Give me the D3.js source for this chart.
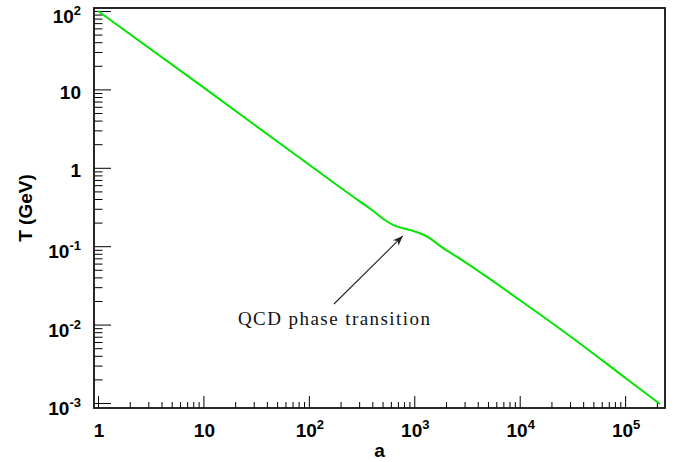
<!DOCTYPE html>
<html>
<head>
<meta charset="utf-8">
<script src="https://cdn.jsdelivr.net/npm/d3@7"></script>
<style>
  html, body { margin: 0; padding: 0; background: #fff; }
  svg { display: block; }
  .lab { font-family: "Liberation Sans", Arial, Helvetica, sans-serif; font-weight: bold; fill: #000; }
</style>
</head>
<body>
<svg id="chart" width="676" height="462"></svg>
<script>
// Scale factor a versus temperature T (GeV) through the QCD era
const scaleFactor = [1, 10, 100, 306, 409, 509, 634, 789, 980, 1178, 1413, 1757, 2186, 2720, 10000, 32400, 100000, 214000];
const temperature = [100, 10.6, 1.1, 0.370, 0.281, 0.222, 0.186, 0.169, 0.156, 0.143, 0.126, 0.101, 0.083, 0.069, 0.0206, 0.0066, 0.0021, 0.00097];

// Axis ticks (labelled decades)
const xMajor = [1, 10, 100, 1000, 10000, 100000];
const xLabels = [["1", ""], ["10", ""], ["10", "2"], ["10", "3"], ["10", "4"], ["10", "5"]];
const yMajor = [100, 10, 1, 0.1, 0.01, 0.001];
const yLabels = [["10", "2"], ["10", ""], ["1", ""], ["10", "-1"], ["10", "-2"], ["10", "-3"]];

// Annotation: label and arrow in data coordinates
const noteText = "QCD phase transition";
const noteArrowFrom = [173, 0.0183];
const noteArrowTo = [778, 0.135];
const noteTextAt = [173, 0.00975];

const frame = { left: 94, right: 665, top: 8, bottom: 408 };

const svg = d3.select("#chart");

const x = d3.scaleLog().domain([0.916, 2.39e5]).range([frame.left, frame.right]);
const y = d3.scaleLog().domain([8.63e-4, 109.2]).range([frame.bottom, frame.top]);

// minor ticks: 2..9 in each decade inside the domain
function minors(scale, lo, hi) {
  const out = [];
  for (let e = lo; e <= hi; e++) {
    for (let m = 2; m <= 9; m++) {
      const v = m * Math.pow(10, e);
      const [d0, d1] = scale.domain();
      if (v > d0 && v < d1) out.push(v);
    }
  }
  return out;
}
const xMinor = minors(x, 0, 5);
const yMinor = minors(y, -3, 1);

// y axis ticks (pointing into the plot)
svg.append("g")
  .attr("transform", `translate(${frame.left},0)`)
  .call(d3.axisLeft(y).tickValues(yMajor).tickSize(-17).tickFormat(""))
  .call(g => g.select(".domain").remove())
  .call(g => g.selectAll("line").attr("stroke", "#000").attr("stroke-width", 1));
svg.append("g")
  .attr("transform", `translate(${frame.left},0)`)
  .call(d3.axisLeft(y).tickValues(yMinor).tickSize(-8.5).tickFormat(""))
  .call(g => g.select(".domain").remove())
  .call(g => g.selectAll("line").attr("stroke", "#000").attr("stroke-width", 1));

// x axis ticks
svg.append("g")
  .attr("transform", `translate(0,${frame.bottom})`)
  .call(d3.axisBottom(x).tickValues(xMajor).tickSize(-12).tickFormat(""))
  .call(g => g.select(".domain").remove())
  .call(g => g.selectAll("line").attr("stroke", "#000").attr("stroke-width", 1));
svg.append("g")
  .attr("transform", `translate(0,${frame.bottom})`)
  .call(d3.axisBottom(x).tickValues(xMinor).tickSize(-6).tickFormat(""))
  .call(g => g.select(".domain").remove())
  .call(g => g.selectAll("line").attr("stroke", "#000").attr("stroke-width", 1));

// tick labels with superscript exponents
function powerLabel(sel, base, exp) {
  sel.append("tspan").text(base);
  if (exp) sel.append("tspan").attr("dy", -8).attr("font-size", 13).text(exp);
}
yMajor.forEach((v, i) => {
  const [b, e] = yLabels[i];
  const t = svg.append("text").attr("class", "lab")
    .attr("x", 81).attr("y", y(v) + (e ? 12 : 9.5))
    .attr("text-anchor", "end").attr("font-size", 19);
  powerLabel(t, b, e);
});
xMajor.forEach((v, i) => {
  const [b, e] = xLabels[i];
  const t = svg.append("text").attr("class", "lab")
    .attr("x", x(v) + 1).attr("y", 436.5)
    .attr("text-anchor", "middle").attr("font-size", 19);
  powerLabel(t, b, e);
});

// axis titles
svg.append("text").attr("class", "lab")
  .attr("x", (frame.left + frame.right) / 2).attr("y", 457)
  .attr("text-anchor", "middle").attr("font-size", 19).text("a");
svg.append("text").attr("class", "lab")
  .attr("transform", `translate(32,${(frame.top + frame.bottom) / 2}) rotate(-90)`)
  .attr("text-anchor", "middle").attr("font-size", 19).text("T (GeV)");

// temperature curve
const pts = scaleFactor.map((a, i) => [a, temperature[i]]);
svg.append("path")
  .datum(pts)
  .attr("fill", "none")
  .attr("stroke", "#00e600")
  .attr("stroke-width", 2)
  .attr("d", d3.line().x(d => x(d[0])).y(d => y(d[1])).curve(d3.curveMonotoneX));

// frame
svg.append("rect")
  .attr("x", frame.left).attr("y", frame.top)
  .attr("width", frame.right - frame.left).attr("height", frame.bottom - frame.top)
  .attr("fill", "none").attr("stroke", "#111").attr("stroke-width", 1.8);

// annotation arrow
svg.append("defs").append("marker")
  .attr("id", "head").attr("viewBox", "0 0 10 10")
  .attr("refX", 10).attr("refY", 5)
  .attr("markerWidth", 10).attr("markerHeight", 10)
  .attr("markerUnits", "userSpaceOnUse")
  .attr("orient", "auto")
  .append("path").attr("d", "M0,1 L10,5 L0,9 L3,5 Z").attr("fill", "#222");
svg.append("line")
  .attr("x1", x(noteArrowFrom[0])).attr("y1", y(noteArrowFrom[1]))
  .attr("x2", x(noteArrowTo[0])).attr("y2", y(noteArrowTo[1]))
  .attr("stroke", "#222").attr("stroke-width", 1.1)
  .attr("marker-end", "url(#head)");
svg.append("text")
  .attr("x", x(noteTextAt[0])).attr("y", y(noteTextAt[1]))
  .attr("text-anchor", "middle")
  .attr("font-family", "'Liberation Serif', 'DejaVu Serif', serif")
  .attr("font-size", 19)
  .attr("textLength", 192).attr("lengthAdjust", "spacing")
  .attr("fill", "#111")
  .text(noteText);
</script>
</body>
</html>
